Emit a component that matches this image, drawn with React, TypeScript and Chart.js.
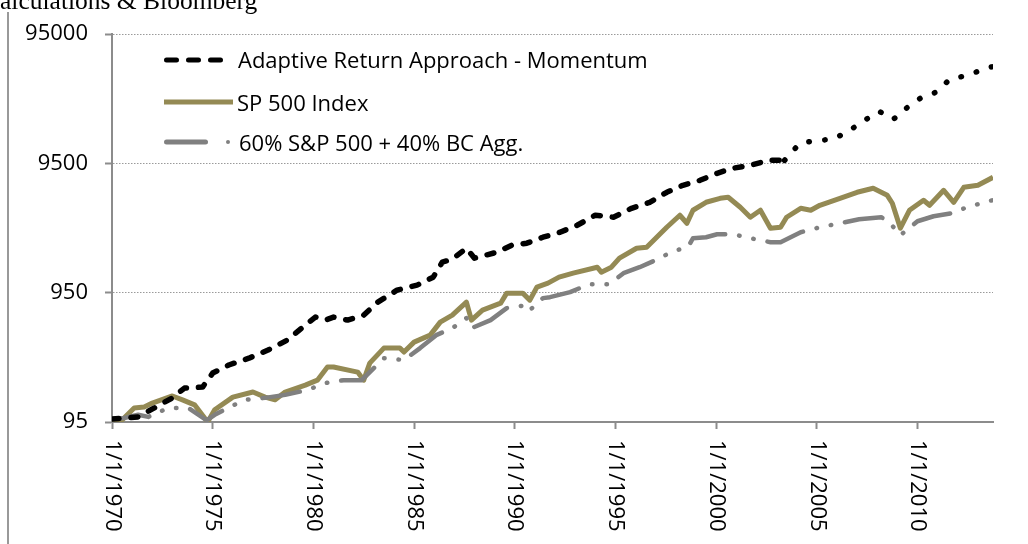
import React, { useEffect, useRef } from 'react';
import { Chart, registerables } from 'chart.js';

Chart.register(...registerables);

const FONT = '"Open Sans", sans-serif';

// X axis ticks (years) and their labels
const xTickYears = [1970, 1975, 1980, 1985, 1990, 1995, 2000, 2005, 2010];
const xTickLabels = ['1/1/1970', '1/1/1975', '1/1/1980', '1/1/1985', '1/1/1990', '1/1/1995', '1/1/2000', '1/1/2005', '1/1/2010'];
const yTickValues = [95, 950, 9500, 95000];

const legendLabels = ['Adaptive Return Approach - Momentum', 'SP 500 Index', '60% S&P 500 + 40% BC Agg.'];
const sourceText = 'Calculations & Bloomberg';

// Adaptive Return Approach - Momentum
const arYears = [1970.0, 1971.3, 1972.1, 1973.0, 1973.6, 1974.5, 1975.0, 1975.8, 1976.8, 1977.75, 1978.7, 1979.6, 1980.1, 1980.6, 1981.0, 1981.7, 1982.5, 1983.2, 1984.15, 1985.15, 1985.95, 1986.4, 1986.9, 1987.6, 1988.0, 1989.1, 1989.85, 1990.6, 1991.4, 1992.25, 1993.1, 1994.0, 1994.9, 1995.8, 1996.7, 1997.55, 1998.35, 1999.2, 2000.05, 2000.8, 2001.7, 2002.6, 2003.4, 2004.15, 2005.0, 2005.8, 2006.55, 2007.45, 2008.1, 2008.8, 2009.5, 2010.2, 2010.9, 2011.6, 2012.45, 2013.4, 2013.75];
const arValues = [100, 104, 122, 146, 174, 177, 227, 262, 296, 342, 408, 533, 615, 583, 615, 583, 637, 802, 993, 1086, 1252, 1634, 1724, 2096, 1755, 1951, 2211, 2292, 2549, 2785, 3155, 3770, 3637, 4268, 4749, 5673, 6426, 7021, 7954, 8694, 9168, 10023, 10023, 13557, 14298, 14554, 16777, 20777, 23940, 20777, 25707, 30714, 33573, 42304, 45429, 51443, 53295];

// SP 500 Index
const spxYears = [1970.0, 1970.4, 1971.1, 1971.6, 1972.0, 1973.0, 1973.5, 1974.1, 1974.6, 1974.75, 1975.1, 1976.0, 1977.0, 1977.6, 1978.1, 1978.6, 1979.6, 1980.2, 1980.7, 1981.0, 1982.2, 1982.5, 1982.8, 1983.5, 1984.3, 1984.5, 1985.0, 1985.8, 1986.3, 1986.9, 1987.6, 1987.85, 1988.4, 1989.3, 1989.6, 1990.4, 1990.75, 1991.1, 1991.65, 1992.2, 1992.9, 1994.1, 1994.3, 1994.8, 1995.2, 1996.05, 1996.55, 1997.05, 1997.55, 1998.2, 1998.55, 1998.85, 1999.5, 2000.2, 2000.6, 2001.2, 2001.7, 2002.2, 2002.7, 2003.2, 2003.5, 2004.2, 2004.7, 2005.15, 2006.15, 2007.0, 2007.8, 2008.5, 2008.75, 2009.15, 2009.6, 2010.3, 2010.6, 2011.3, 2011.8, 2012.3, 2013.0, 2013.75];
const spxValues = [100, 95, 122, 124, 133, 151, 141, 129, 102, 95, 118, 148, 162, 148, 141, 162, 183, 200, 253, 253, 231, 200, 271, 354, 354, 330, 394, 446, 562, 637, 802, 583, 696, 788, 942, 942, 831, 1048, 1125, 1252, 1344, 1495, 1368, 1495, 1755, 2096, 2134, 2549, 3045, 3770, 3269, 4120, 4749, 5098, 5191, 4344, 3637, 4120, 2991, 3045, 3637, 4268, 4120, 4502, 5098, 5673, 6091, 5378, 4666, 2991, 4120, 4920, 4502, 5879, 4749, 6202, 6426, 7408];

// 60% S&P 500 + 40% BC Agg.
const balYears = [1970.0, 1970.6, 1971.3, 1971.8, 1972.8, 1973.8, 1974.7, 1975.1, 1975.75, 1976.6, 1977.6, 1978.6, 1979.7, 1980.6, 1981.5, 1982.4, 1983.5, 1984.5, 1985.3, 1986.1, 1986.9, 1987.6, 1987.85, 1988.8, 1989.6, 1990.6, 1990.75, 1991.4, 1991.75, 1992.75, 1993.7, 1994.7, 1995.4, 1996.2, 1997.1, 1997.85, 1998.6, 1998.85, 1999.5, 2000.05, 2000.85, 2001.7, 2002.7, 2003.2, 2004.2, 2005.15, 2006.15, 2007.1, 2008.2, 2008.6, 2009.15, 2010.0, 2010.8, 2011.7, 2012.45, 2013.35, 2013.7];
const balValues = [100, 102, 108, 104, 122, 122, 98, 108, 122, 141, 146, 154, 168, 190, 200, 200, 296, 286, 354, 446, 505, 604, 505, 583, 721, 761, 696, 862, 877, 959, 1105, 1105, 1344, 1495, 1724, 1987, 2134, 2503, 2549, 2688, 2688, 2503, 2333, 2333, 2785, 3045, 3269, 3510, 3637, 3328, 2641, 3387, 3702, 3906, 4344, 4749, 4920];

const BLACK = '#000000';
const OLIVE = '#948A54';
const GRAY = '#808080';
const AXIS = '#8c8c8c';

const toPoints = (xs: number[], ys: number[]) => xs.map((x, i) => ({ x, y: ys[i] }));

export default function App() {
  const ref = useRef<HTMLCanvasElement>(null);

  useEffect(() => {
    if (!ref.current) return;

    const overlay = {
      id: 'overlay',
      afterDraw(chart: any) {
        const ctx = chart.ctx as CanvasRenderingContext2D;
        const xs = chart.scales.x;
        const area = chart.chartArea;
        ctx.save();

        // rotated x tick labels (reading top to bottom)
        ctx.font = `22px ${FONT}`;
        ctx.fillStyle = '#000';
        ctx.textAlign = 'left';
        ctx.textBaseline = 'middle';
        xTickYears.forEach((yr, i) => {
          const px = xs.getPixelForValue(yr);
          ctx.save();
          ctx.translate(px, area.bottom + 18);
          ctx.rotate(Math.PI / 2);
          ctx.fillText(xTickLabels[i], 0, 0);
          ctx.restore();
        });

        // legend
        const line = (x1: number, x2: number, y: number) => {
          ctx.beginPath();
          ctx.moveTo(x1, y);
          ctx.lineTo(x2, y);
          ctx.stroke();
        };
        ctx.lineCap = 'round';
        ctx.lineWidth = 5;
        ctx.strokeStyle = BLACK;
        ctx.setLineDash([10, 12]);
        line(166.5, 222, 60);
        ctx.setLineDash([]);
        ctx.strokeStyle = OLIVE;
        ctx.lineCap = 'butt';
        line(164, 233, 102);
        ctx.lineCap = 'round';
        ctx.strokeStyle = GRAY;
        line(166.5, 205.5, 142);
        ctx.fillStyle = GRAY;
        ctx.beginPath();
        ctx.arc(228, 142, 2, 0, Math.PI * 2);
        ctx.fill();

        ctx.fillStyle = '#000';
        ctx.font = `22px ${FONT}`;
        ctx.textAlign = 'left';
        ctx.textBaseline = 'alphabetic';
        ctx.fillText(legendLabels[0], 238, 68);
        ctx.fillText(legendLabels[1], 237, 111);
        ctx.fillText(legendLabels[2], 239, 151);

        // clipped source note at the very top
        ctx.font = '25.5px "Liberation Serif", serif';
        ctx.fillText(sourceText, -17, 9);

        // left frame line
        ctx.strokeStyle = '#999';
        ctx.lineWidth = 2;
        ctx.lineCap = 'butt';
        ctx.beginPath();
        ctx.moveTo(8, 12);
        ctx.lineTo(8, 544);
        ctx.stroke();

        ctx.restore();
      },
    };

    const chart = new Chart(ref.current, {
      type: 'line',
      data: {
        datasets: [
          {
            label: legendLabels[0],
            data: toPoints(arYears, arValues),
            borderColor: BLACK,
            borderWidth: 5.5,
            borderCapStyle: 'round',
            borderJoinStyle: 'round',
            borderDash: [7, 12],
            segment: {
              borderDash: (c: any) => (c.p0.parsed.x >= 2002.9 ? [0.5, 15.5] : undefined),
            },
            pointRadius: 0,
            order: 0,
          },
          {
            label: legendLabels[1],
            data: toPoints(spxYears, spxValues),
            borderColor: OLIVE,
            borderWidth: 5,
            borderJoinStyle: 'round',
            pointRadius: 0,
            order: 2,
          },
          {
            label: legendLabels[2],
            data: toPoints(balYears, balValues),
            borderColor: GRAY,
            borderWidth: 4.5,
            borderCapStyle: 'round',
            borderJoinStyle: 'round',
            borderDash: [38, 14, 0.5, 14, 0.5, 14],
            pointRadius: 0,
            order: 1,
          },
        ],
      },
      options: {
        responsive: false,
        animation: false,
        layout: { padding: { top: 34, right: 35, left: 0, bottom: 0 } },
        plugins: { legend: { display: false }, tooltip: { enabled: false } },
        elements: { line: { tension: 0 }, point: { radius: 0 } },
        scales: {
          x: {
            type: 'linear',
            min: 1970,
            max: 2013.75,
            afterBuildTicks: (s: any) => {
              s.ticks = xTickYears.map((v) => ({ value: v }));
            },
            afterFit: (s: any) => {
              s.height = 122;
            },
            ticks: { display: false },
            grid: { drawOnChartArea: false, drawTicks: true, tickLength: 7, tickColor: AXIS, tickWidth: 2 },
            border: { display: true, color: AXIS, width: 2 },
          },
          y: {
            type: 'logarithmic',
            min: 95,
            max: 95000,
            afterBuildTicks: (s: any) => {
              s.ticks = yTickValues.map((v) => ({ value: v }));
            },
            afterFit: (s: any) => {
              s.width = 112;
            },
            ticks: {
              callback: (v: any) => String(v),
              font: { family: FONT, size: 22 },
              color: '#000',
              padding: 17,
            },
            grid: { color: '#9a9a9a', lineWidth: 1, tickLength: 7, tickColor: AXIS, tickWidth: 2, tickBorderDash: [] },
            border: { display: true, color: AXIS, width: 2, dash: [1.5, 1.5] },
          },
        },
      },
      plugins: [overlay],
    } as any);

    return () => chart.destroy();
  }, []);

  return (
    <div style={{ position: 'absolute', left: 0, top: 0, width: 1028, height: 544, background: '#fff' }}>
      <canvas ref={ref} width={1028} height={544} style={{ display: 'block' }} />
    </div>
  );
}
